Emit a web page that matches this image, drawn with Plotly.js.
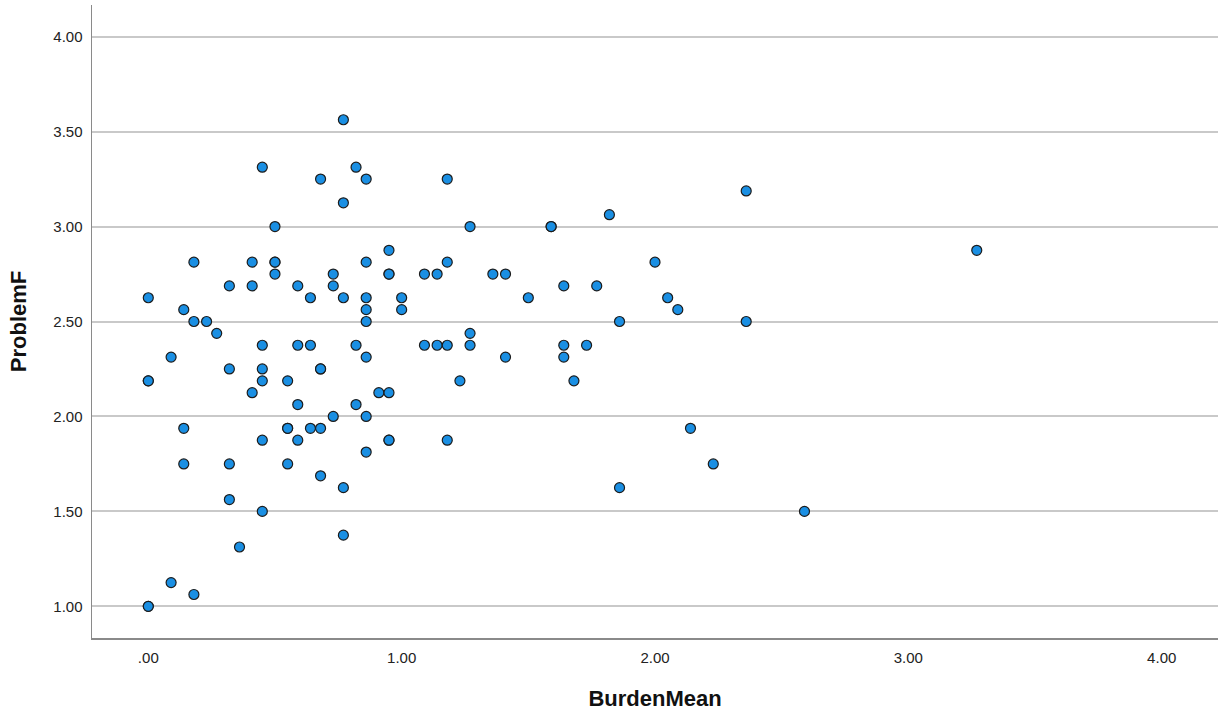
<!DOCTYPE html>
<html>
<head>
<meta charset="utf-8">
<script src="https://cdn.plot.ly/plotly-3.0.1.min.js"></script>
<style>
  html, body { margin: 0; padding: 0; background: #ffffff; }
  #chart { width: 1221px; height: 713px; }
</style>
</head>
<body>
<div id="chart"></div>
<script>
// Scatter data (BurdenMean vs ProblemF)
const burdenMean = [
  0.00, 0.00, 0.00, 0.00, 0.00,
  0.09, 0.09,
  0.14, 0.14, 0.14,
  0.18, 0.18, 0.18,
  0.23,
  0.27,
  0.32, 0.32, 0.32, 0.32,
  0.36,
  0.41, 0.41, 0.41,
  0.45, 0.45, 0.45, 0.45, 0.45, 0.45,
  0.50, 0.50, 0.50, 0.50,
  0.55, 0.55, 0.55, 0.55,
  0.59, 0.59, 0.59, 0.59,
  0.64, 0.64, 0.64,
  0.68, 0.68, 0.68, 0.68, 0.68,
  0.73, 0.73, 0.73,
  0.77, 0.77, 0.77, 0.77, 0.77,
  0.82, 0.82, 0.82,
  0.86, 0.86, 0.86, 0.86, 0.86, 0.86, 0.86, 0.86,
  0.91,
  0.95, 0.95, 0.95, 0.95, 0.95, 0.95,
  1.00, 1.00,
  1.09, 1.09,
  1.14, 1.14,
  1.18, 1.18, 1.18, 1.18,
  1.23,
  1.27, 1.27, 1.27,
  1.36,
  1.41, 1.41,
  1.50,
  1.59, 1.59,
  1.64, 1.64, 1.64,
  1.68,
  1.73,
  1.77,
  1.82,
  1.86, 1.86,
  2.00,
  2.05,
  2.09,
  2.14,
  2.23,
  2.36, 2.36,
  2.59,
  3.27
];
const problemF = [
  2.625, 2.1875, 2.1875, 1.0, 1.0,
  2.3125, 1.125,
  2.5625, 1.9375, 1.75,
  2.8125, 2.5, 1.0625,
  2.5,
  2.4375,
  2.6875, 2.25, 1.75, 1.5625,
  1.3125,
  2.8125, 2.6875, 2.125,
  3.3125, 2.375, 2.25, 2.1875, 1.875, 1.5,
  3.0, 2.8125, 2.8125, 2.75,
  2.1875, 1.9375, 1.9375, 1.75,
  2.6875, 2.375, 2.0625, 1.875,
  2.625, 2.375, 1.9375,
  3.25, 2.25, 2.25, 1.9375, 1.6875,
  2.75, 2.6875, 2.0,
  3.5625, 3.125, 2.625, 1.625, 1.375,
  3.3125, 2.375, 2.0625,
  3.25, 2.8125, 2.625, 2.5625, 2.5, 2.3125, 2.0, 1.8125,
  2.125,
  2.875, 2.75, 2.75, 2.125, 1.875, 1.875,
  2.625, 2.5625,
  2.75, 2.375,
  2.75, 2.375,
  3.25, 2.8125, 2.375, 1.875,
  2.1875,
  3.0, 2.4375, 2.375,
  2.75,
  2.75, 2.3125,
  2.625,
  3.0, 3.0,
  2.6875, 2.375, 2.3125,
  2.1875,
  2.375,
  2.6875,
  3.0625,
  2.5, 1.625,
  2.8125,
  2.625,
  2.5625,
  1.9375,
  1.75,
  3.1875, 2.5,
  1.5,
  2.875
];

// Axis ticks
const xTickVals = [0, 1, 2, 3, 4];
const xTickText = ['.00', '1.00', '2.00', '3.00', '4.00'];
const yTickVals = [1.0, 1.5, 2.0, 2.5, 3.0, 3.5, 4.0];
const yTickText = ['1.00', '1.50', '2.00', '2.50', '3.00', '3.50', '4.00'];

const trace = {
  type: 'scatter',
  mode: 'markers',
  x: burdenMean,
  y: problemF,
  marker: {
    size: 10,
    color: '#1a8fe3',
    line: { color: '#1c1c1c', width: 1.2 }
  },
  hoverinfo: 'x+y'
};

const layout = {
  width: 1221,
  height: 713,
  paper_bgcolor: '#ffffff',
  plot_bgcolor: '#ffffff',
  margin: { l: 92, r: 3, t: 5, b: 75, pad: 0 },
  showlegend: false,
  font: { family: 'Liberation Sans, Arial, sans-serif', color: '#222222' },
  xaxis: {
    range: [-0.2222, 4.2222],
    tickvals: xTickVals,
    ticktext: xTickText,
    tickfont: { size: 15, color: '#222222' },
    ticklabelstandoff: 5,
    showgrid: false,
    zeroline: false,
    showline: true,
    linecolor: '#8a8a8a',
    linewidth: 1.5,
    ticks: '',
    automargin: false,
    title: {
      text: 'BurdenMean',
      font: { size: 22, color: '#111111', family: 'Liberation Sans, Arial, sans-serif', weight: 'bold' },
      standoff: 26
    }
  },
  yaxis: {
    range: [0.8333, 4.1667],
    tickvals: yTickVals,
    ticktext: yTickText,
    tickfont: { size: 15, color: '#222222' },
    ticklabelstandoff: 5,
    showgrid: true,
    gridcolor: '#c9c9c9',
    gridwidth: 2,
    zeroline: false,
    showline: true,
    linecolor: '#8a8a8a',
    linewidth: 1.5,
    ticks: '',
    automargin: false,
    title: {
      text: 'ProblemF',
      font: { size: 22, color: '#111111', family: 'Liberation Sans, Arial, sans-serif', weight: 'bold' },
      standoff: 20
    }
  }
};

Plotly.newPlot('chart', [trace], layout, { displayModeBar: false, staticPlot: true });
</script>
</body>
</html>
